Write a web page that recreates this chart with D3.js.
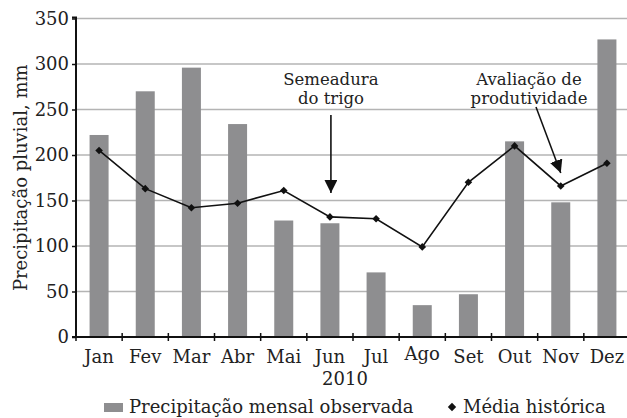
<!DOCTYPE html>
<html><head><meta charset="utf-8">
<script src="https://cdn.jsdelivr.net/npm/d3@7"></script>
<style>
html,body{margin:0;padding:0;background:#fff;}
text{font-family:"DejaVu Serif",serif;fill:#222;}
</style></head>
<body><svg id="c" width="627" height="418"></svg>
<script>
const months = ["Jan","Fev","Mar","Abr","Mai","Jun","Jul","Ago","Set","Out","Nov","Dez"];
const observed = [222,270,296,234,128,125,71,35,47,215,148,327];
const historical = [205,163,142,147,161,132,130,99,170,210,166,191];
const yTicks = [0,50,100,150,200,250,300,350];
const yLabel = "Precipitação pluvial, mm";
const xTitle = "2010";
const legendBar = "Precipitação mensal observada";
const legendLine = "Média histórica";
const annotations = [
  {month:"Jun", lines:["Semeadura","do trigo"], value:132},
  {month:"Nov", lines:["Avaliação de","produtividade"], value:166}
];

(function(){
const svg = d3.select("#c");
const pl = 76, pr = 630, pt = 18.5, pb = 337;
const x = d3.scaleBand().domain(months).range([pl,pr]).padding(0);
const y = d3.scaleLinear().domain([0,350]).range([pb,pt]);
const diamond = r => `M0,${-r}L${r},0L0,${r}L${-r},0Z`;

// gridlines
svg.append("g").selectAll("line").data(yTicks.filter(d=>d>0)).join("line")
  .attr("x1",pl).attr("x2",627).attr("y1",d=>y(d)).attr("y2",d=>y(d))
  .attr("stroke","#b4b4b4").attr("stroke-width",1.6);

// bars
const bw = 19;
svg.append("g").selectAll("rect").data(months).join("rect")
  .attr("x",(d)=>x(d)+x.bandwidth()/2-bw/2)
  .attr("width",bw)
  .attr("y",(d,i)=>y(observed[i]))
  .attr("height",(d,i)=>pb-y(observed[i]))
  .attr("fill","#8e8e90");

// y axis
const ya = svg.append("g").attr("transform",`translate(${pl},0)`)
  .call(d3.axisLeft(y).tickValues(yTicks).tickSize(4).tickPadding(3));
ya.select(".domain").attr("stroke","#111").attr("stroke-width",2).attr("d",`M-4,${pt-1}H0V${pb}`);
ya.selectAll(".tick line").attr("stroke","#111").attr("stroke-width",1.5);
ya.selectAll("text").style("font-family","DejaVu Serif").style("font-size","18px").attr("fill","#222");

// x axis
const xa = svg.append("g").attr("transform",`translate(0,${pb})`);
xa.append("line").attr("x1",pl-4).attr("x2",627).attr("y1",0).attr("y2",0)
  .attr("stroke","#111").attr("stroke-width",2);
xa.selectAll("line.tk").data(months).join("line").attr("class","tk")
  .attr("x1",d=>x(d)).attr("x2",d=>x(d)).attr("y1",-4).attr("y2",4)
  .attr("stroke","#111").attr("stroke-width",1.5);
xa.selectAll("text.lb").data(months).join("text").attr("class","lb")
  .attr("x",d=>x(d)+x.bandwidth()/2)
  .attr("y",d=>d==="Ago"?23:26)
  .attr("text-anchor","middle").style("font-size","18px").text(d=>d);

svg.append("text").attr("x",345).attr("y",385).attr("text-anchor","middle")
  .style("font-size","18px").text(xTitle);

svg.append("text").attr("transform",`translate(27,${(pt+pb)/2}) rotate(-90)`)
  .attr("text-anchor","middle").style("font-size","18px").text(yLabel);

// line
const line = d3.line().x((d,i)=>x(months[i])+x.bandwidth()/2).y(d=>y(d));
svg.append("path").datum(historical).attr("d",line).attr("fill","none")
  .attr("stroke","#111").attr("stroke-width",1.6);
svg.append("g").selectAll("path").data(historical).join("path")
  .attr("transform",(d,i)=>`translate(${x(months[i])+x.bandwidth()/2},${y(d)})`)
  .attr("d",diamond(3.8)).attr("fill","#111");

// annotations
svg.append("defs").append("marker").attr("id","ah").attr("viewBox","0 0 10 10")
  .attr("refX",10).attr("refY",5).attr("markerWidth",13).attr("markerHeight",13)
  .attr("markerUnits","userSpaceOnUse").attr("orient","auto")
  .append("path").attr("d","M0,0L10,5L0,10Z").attr("fill","#111");

function label(cx, y0, lines){
  const t = svg.append("text").attr("text-anchor","middle").style("font-size","16.5px");
  lines.forEach((s,i)=>t.append("tspan").attr("x",cx).attr("y",y0+i*18.5).text(s));
}

const a0 = annotations[0];
const ax0 = x(a0.month)+x.bandwidth()/2+1;
svg.append("line").attr("x1",ax0).attr("x2",ax0).attr("y1",115).attr("y2",y(a0.value)-24)
  .attr("stroke","#111").attr("stroke-width",1.6).attr("marker-end","url(#ah)");
label(ax0, 85, a0.lines);

const a1 = annotations[1];
const ax1 = x(a1.month)+x.bandwidth()/2;
svg.append("line").attr("x1",536).attr("y1",107).attr("x2",ax1).attr("y2",y(a1.value)-13)
  .attr("stroke","#111").attr("stroke-width",1.6).attr("marker-end","url(#ah)");
label(529, 85, a1.lines);

// legend
svg.append("rect").attr("x",104).attr("y",403).attr("width",19).attr("height",9).attr("fill","#8e8e90");
svg.append("text").attr("x",129).attr("y",413).style("font-size","18px").text(legendBar);
svg.append("path").attr("transform","translate(452,407)").attr("d",diamond(4.2)).attr("fill","#111");
svg.append("text").attr("x",463).attr("y",413).style("font-size","18px").text(legendLine);
})();
</script></body></html>
